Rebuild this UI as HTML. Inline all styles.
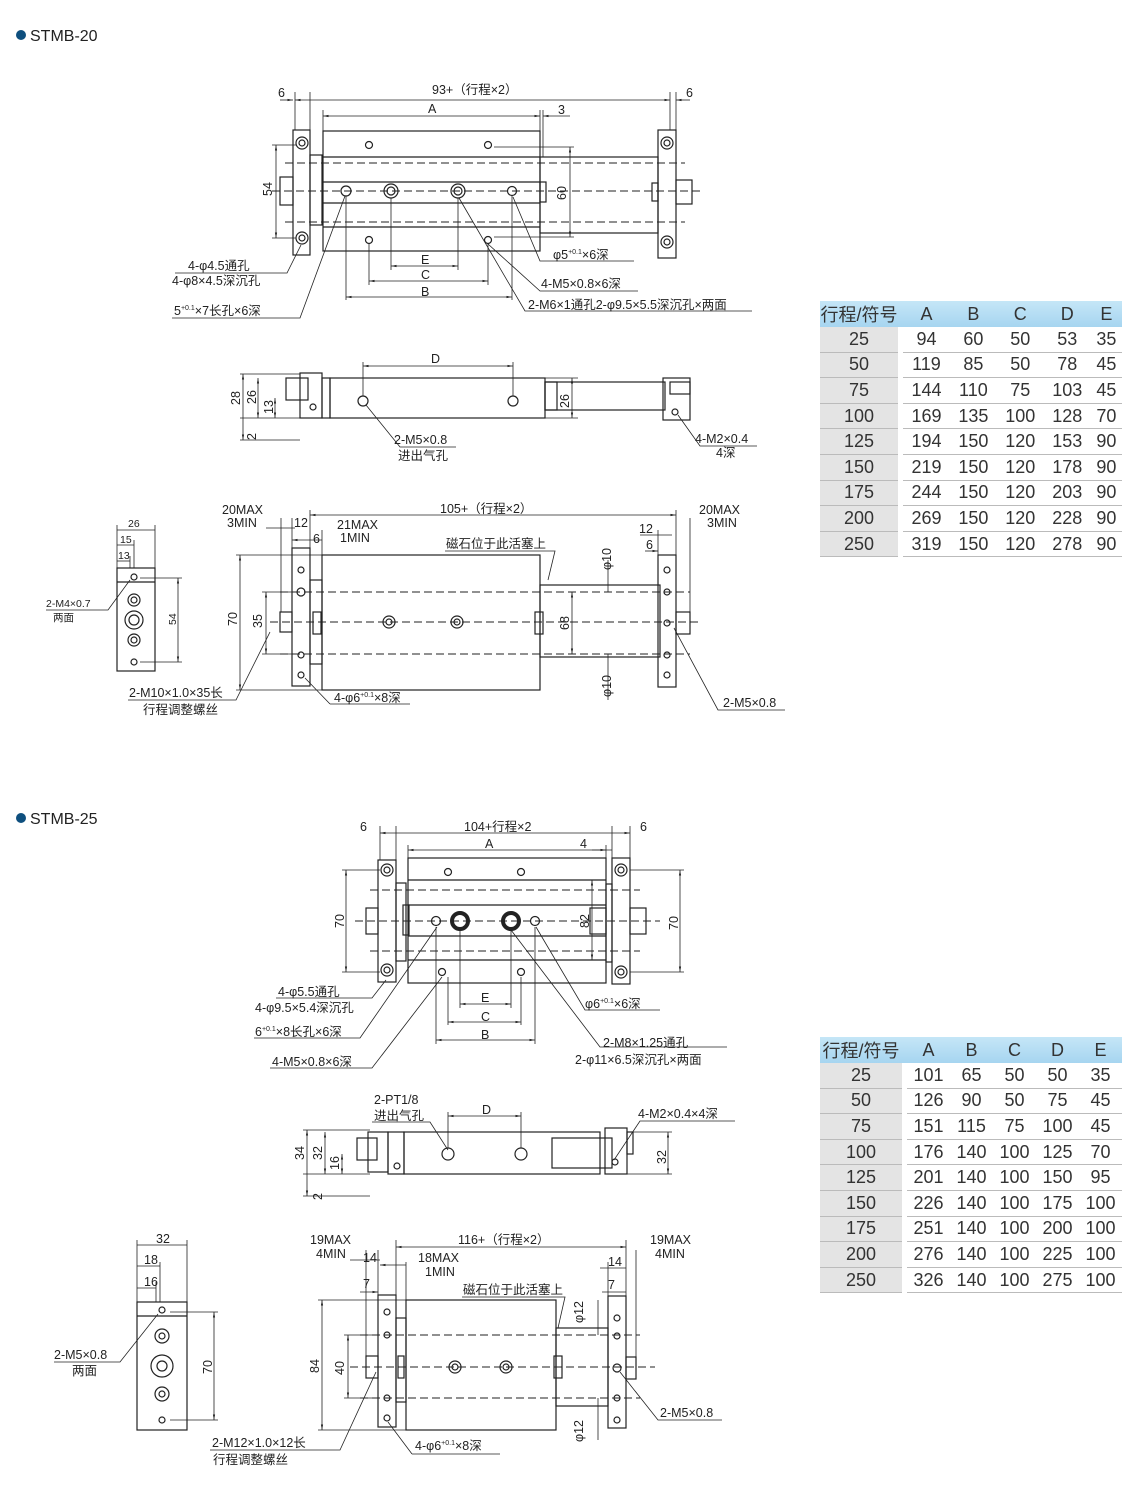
<!DOCTYPE html>
<html><head><meta charset="utf-8"><style>
body{margin:0;background:#fff;width:1140px;height:1504px;overflow:hidden;font-family:"Liberation Sans","Noto Sans CJK SC",sans-serif}
svg text{font-family:"Liberation Sans","Noto Sans CJK SC",sans-serif;fill:#222}
svg text:not(.h){font-size:12.5px}
.t{position:absolute;border-collapse:separate;border-spacing:0;font-size:18px;color:#333}
.t td{height:24.6px;padding:0;text-align:center;border-bottom:1px solid #bbb}
.t tr:first-child td{background:linear-gradient(#c5e6f7,#a6d5f0);border-bottom:none}
.t td.g{background:#e4e4e4}
.t td.sp{width:5px;background:#fff;border-bottom:none}
</style></head><body>
<svg width="1140" height="1504" style="position:absolute;left:0;top:0" stroke="#222" fill="none" stroke-width="1.2">
<defs><marker id="a" viewBox="0 0 10 10" refX="10" refY="5" markerWidth="7" markerHeight="7" orient="auto-start-reverse"><path d="M0,3L10,5L0,7z" fill="#222" stroke="none"/></marker></defs>
<g stroke="none" fill="#0e4f7e"><circle cx="21" cy="35" r="5"/><circle cx="21" cy="818" r="5"/></g>
<g stroke="none" font-size="16"><text class="h" x="30" y="41" font-size="16">STMB-20</text><text class="h" x="30" y="824" font-size="16">STMB-25</text></g>

<!-- ===== STMB-20 TOP ===== -->
<g>
<rect x="293" y="130" width="17" height="125"/><rect x="310" y="155" width="12" height="70"/>
<rect x="323" y="131" width="217" height="120"/><line x1="323" y1="157" x2="540" y2="157"/><line x1="323" y1="182" x2="540" y2="182"/><line x1="323" y1="203" x2="540" y2="203"/><line x1="323" y1="227" x2="540" y2="227"/>
<rect x="540" y="157" width="118" height="76"/><rect x="540" y="182" width="6" height="20"/>
<rect x="658" y="130" width="18" height="128"/><rect x="280" y="177" width="13" height="28"/><rect x="676" y="180" width="16" height="24"/><rect x="652" y="183" width="6" height="18"/>
<g stroke-dasharray="8,4" stroke-width="1"><line x1="285" y1="163" x2="685" y2="163"/><line x1="285" y1="222" x2="685" y2="222"/><line x1="272" y1="191" x2="700" y2="191"/></g>
<g><circle cx="302" cy="143" r="6"/><circle cx="302" cy="143" r="3"/><circle cx="302" cy="238" r="6"/><circle cx="302" cy="238" r="3"/><circle cx="667" cy="143" r="6"/><circle cx="667" cy="143" r="3"/><circle cx="667" cy="242" r="6"/><circle cx="667" cy="242" r="3"/>
<circle cx="369" cy="145" r="3.5"/><circle cx="488" cy="145" r="3.5"/><circle cx="369" cy="240" r="3.5"/><circle cx="488" cy="240" r="3.5"/>
<circle cx="346" cy="191" r="5"/><circle cx="391" cy="191" r="7"/><circle cx="391" cy="191" r="4"/><circle cx="458" cy="191" r="7"/><circle cx="458" cy="191" r="4"/><circle cx="512" cy="191" r="4.5"/></g>
<g stroke-width="0.8"><line x1="295" y1="100" x2="670" y2="100" marker-start="url(#a)" marker-end="url(#a)"/><line x1="280" y1="100" x2="293" y2="100" marker-end="url(#a)"/><line x1="690" y1="100" x2="676" y2="100" marker-end="url(#a)"/>
<line x1="295" y1="92" x2="295" y2="130"/><line x1="310" y1="92" x2="310" y2="130"/><line x1="670" y1="92" x2="670" y2="130"/><line x1="676" y1="92" x2="676" y2="130"/>
<line x1="323" y1="116" x2="540" y2="116" marker-start="url(#a)" marker-end="url(#a)"/><line x1="323" y1="110" x2="323" y2="131"/><line x1="540" y1="110" x2="540" y2="131"/><line x1="543" y1="110" x2="543" y2="157"/><line x1="570" y1="116" x2="543" y2="116" marker-end="url(#a)"/>
<line x1="276" y1="145" x2="276" y2="238" marker-start="url(#a)" marker-end="url(#a)"/><line x1="272" y1="145" x2="296" y2="145"/><line x1="272" y1="238" x2="296" y2="238"/>
<line x1="570" y1="147" x2="570" y2="237" marker-start="url(#a)" marker-end="url(#a)"/><line x1="494" y1="147" x2="574" y2="147"/><line x1="494" y1="237" x2="574" y2="237"/>
<line x1="391" y1="198" x2="391" y2="270"/><line x1="458" y1="198" x2="458" y2="270"/><line x1="369" y1="244" x2="369" y2="285"/><line x1="488" y1="244" x2="488" y2="285"/><line x1="346" y1="196" x2="346" y2="300"/><line x1="512" y1="196" x2="512" y2="300"/>
<line x1="391" y1="266" x2="458" y2="266" marker-start="url(#a)" marker-end="url(#a)"/><line x1="369" y1="281" x2="488" y2="281" marker-start="url(#a)" marker-end="url(#a)"/><line x1="346" y1="297" x2="512" y2="297" marker-start="url(#a)" marker-end="url(#a)"/>
<polyline points="175,273 287,273 301,245"/><polyline points="172,318 300,318 345,196"/><polyline points="634,261 540,261 513,197"/><polyline points="638,291 540,291 488,244"/><polyline points="752,311 525,311 459,198"/></g>
<g stroke="none"><text x="278" y="97">6</text><text x="686" y="97">6</text><text x="432" y="94">93+（行程×2）</text><text x="428" y="113">A</text><text x="558" y="114">3</text><text x="421" y="264">E</text><text x="421" y="279">C</text><text x="421" y="296">B</text>
<text x="188" y="270">4-φ4.5通孔</text><text x="172" y="285">4-φ8×4.5深沉孔</text><text x="174" y="315">5<tspan font-size="7" dy="-5">+0.1</tspan><tspan dy="5">×7长孔×6深</tspan></text><text x="553" y="259">φ5<tspan font-size="7" dy="-5">+0.1</tspan><tspan dy="5">×6深</tspan></text><text x="541" y="288">4-M5×0.8×6深</text><text x="528" y="309">2-M6×1通孔2-φ9.5×5.5深沉孔×两面</text>
<text transform="translate(272,196) rotate(-90)">54</text><text transform="translate(566,200) rotate(-90)">60</text></g>
</g>

<!-- ===== STMB-20 SIDE ===== -->
<g>
<rect x="286" y="378" width="22" height="22"/><rect x="300" y="373" width="22" height="45"/><rect x="322" y="378" width="8" height="40"/><rect x="330" y="378" width="215" height="40"/><rect x="545" y="382" width="120" height="28"/><rect x="545" y="382" width="12" height="28"/><rect x="663" y="378" width="27" height="42"/><rect x="670" y="382" width="20" height="12"/>
<circle cx="363" cy="401" r="5"/><circle cx="513" cy="401" r="5"/><circle cx="313" cy="407" r="3"/><circle cx="675" cy="412" r="3"/>
<g stroke-width="0.8"><line x1="363" y1="366" x2="513" y2="366" marker-start="url(#a)" marker-end="url(#a)"/><line x1="363" y1="362" x2="363" y2="396"/><line x1="513" y1="362" x2="513" y2="396"/>
<line x1="243" y1="374" x2="243" y2="440" marker-start="url(#a)" marker-end="url(#a)"/><line x1="258" y1="378" x2="258" y2="418" marker-start="url(#a)" marker-end="url(#a)"/><line x1="275" y1="398" x2="275" y2="418" marker-start="url(#a)" marker-end="url(#a)"/><line x1="240" y1="374" x2="300" y2="374"/><line x1="240" y1="418" x2="300" y2="418"/><line x1="240" y1="440" x2="300" y2="440"/>
<line x1="572" y1="378" x2="572" y2="418" marker-start="url(#a)" marker-end="url(#a)"/><line x1="545" y1="378" x2="578" y2="378"/><line x1="545" y1="418" x2="578" y2="418"/>
<polyline points="456,447 400,447 366,405"/><polyline points="757,446 700,446 678,415"/></g>
<g stroke="none"><text x="431" y="363">D</text><text x="394" y="444">2-M5×0.8</text><text x="398" y="460">进出气孔</text><text x="695" y="443">4-M2×0.4</text><text x="716" y="457">4深</text>
<text transform="translate(240,405) rotate(-90)">28</text><text transform="translate(256,404) rotate(-90)">26</text><text transform="translate(273,414) rotate(-90)">13</text><text transform="translate(256,440) rotate(-90)">2</text><text transform="translate(569,408) rotate(-90)">26</text></g>
</g>

<!-- ===== STMB-20 FRONT ===== -->
<g>
<rect x="292" y="548" width="18" height="138"/><rect x="310" y="580" width="12" height="84"/><rect x="322" y="555" width="218" height="135"/><rect x="540" y="585" width="120" height="72"/><rect x="535" y="612" width="8" height="22"/><rect x="313" y="612" width="8" height="22"/><rect x="658" y="555" width="18" height="132"/><rect x="676" y="612" width="14" height="22"/><rect x="280" y="612" width="12" height="20"/>
<g stroke-dasharray="8,4" stroke-width="1"><line x1="280" y1="592" x2="690" y2="592"/><line x1="280" y1="654" x2="690" y2="654"/><line x1="270" y1="622" x2="700" y2="622"/></g>
<circle cx="389" cy="622" r="6"/><circle cx="389" cy="622" r="3"/><circle cx="457" cy="622" r="6"/><circle cx="457" cy="622" r="3"/>
<g><circle cx="301" cy="570" r="3"/><circle cx="301" cy="592" r="4"/><circle cx="301" cy="655" r="3"/><circle cx="301" cy="675" r="3"/><circle cx="667" cy="570" r="3"/><circle cx="667" cy="592" r="3"/><circle cx="667" cy="655" r="3"/><circle cx="667" cy="675" r="3"/><circle cx="667" cy="623" r="3"/></g>
<g stroke-width="0.8"><line x1="240" y1="555" x2="240" y2="690" marker-start="url(#a)" marker-end="url(#a)"/><line x1="236" y1="555" x2="322" y2="555"/><line x1="236" y1="690" x2="322" y2="690"/>
<line x1="266" y1="592" x2="266" y2="654" marker-start="url(#a)" marker-end="url(#a)"/><line x1="262" y1="592" x2="292" y2="592"/><line x1="262" y1="654" x2="292" y2="654"/>
<line x1="572" y1="592" x2="572" y2="654" marker-start="url(#a)" marker-end="url(#a)"/>
<line x1="608" y1="560" x2="608" y2="592" /><line x1="608" y1="654" x2="608" y2="700"/>
<line x1="310" y1="515" x2="676" y2="515" marker-start="url(#a)" marker-end="url(#a)"/><line x1="266" y1="528" x2="295" y2="528"/><line x1="322" y1="540" x2="292" y2="540" marker-end="url(#a)"/><line x1="640" y1="535" x2="672" y2="535"/><line x1="645" y1="551" x2="658" y2="551" marker-end="url(#a)"/>
<line x1="281" y1="518" x2="281" y2="612"/><line x1="292" y1="518" x2="292" y2="548"/><line x1="310" y1="510" x2="310" y2="580"/><line x1="322" y1="530" x2="322" y2="555"/><line x1="676" y1="510" x2="676" y2="555"/><line x1="690" y1="518" x2="690" y2="612"/><line x1="658" y1="530" x2="658" y2="555"/>
<polyline points="445,551 555,551 548,580"/><polyline points="128,700 236,700 270,632"/><polyline points="330,704 410,704"/><line x1="330" y1="704" x2="305" y2="678"/><polyline points="785,710 718,710 674,628"/></g>
<g stroke="none"><text x="440" y="513">105+（行程×2）</text><text x="222" y="514">20MAX</text><text x="227" y="527">3MIN</text><text x="294" y="527">12</text><text x="337" y="529">21MAX</text><text x="340" y="542">1MIN</text><text x="313" y="543">6</text><text x="446" y="548">磁石位于此活塞上</text><text x="699" y="514">20MAX</text><text x="707" y="527">3MIN</text><text x="639" y="533">12</text><text x="646" y="549">6</text>
<text x="129" y="697">2-M10×1.0×35长</text><text x="143" y="714">行程调整螺丝</text><text x="334" y="702">4-φ6<tspan font-size="7" dy="-5">+0.1</tspan><tspan dy="5">×8深</tspan></text><text x="723" y="707">2-M5×0.8</text>
<text transform="translate(237,626) rotate(-90)">70</text><text transform="translate(262,628) rotate(-90)">35</text><text transform="translate(569,630) rotate(-90)">68</text><text transform="translate(611,570) rotate(-90)">φ10</text><text transform="translate(611,697) rotate(-90)">φ10</text></g>
</g>
<!-- small side 20 -->
<g>
<rect x="117" y="568" width="38" height="103"/><line x1="117" y1="582" x2="155" y2="582"/>
<circle cx="134" cy="577" r="3"/><circle cx="134" cy="600" r="6"/><circle cx="134" cy="600" r="3"/><circle cx="134" cy="620" r="9"/><circle cx="134" cy="620" r="5"/><circle cx="134" cy="640" r="6"/><circle cx="134" cy="640" r="3"/><circle cx="134" cy="662" r="3"/>
<g stroke-width="0.8"><line x1="117" y1="530" x2="155" y2="530"/><line x1="117" y1="545" x2="134" y2="545"/><line x1="117" y1="561" x2="130" y2="561"/><line x1="117" y1="525" x2="117" y2="568"/><line x1="155" y1="525" x2="155" y2="568"/><line x1="134" y1="540" x2="134" y2="568"/><line x1="130" y1="556" x2="130" y2="568"/>
<line x1="178" y1="578" x2="178" y2="662" marker-start="url(#a)" marker-end="url(#a)"/><line x1="140" y1="578" x2="182" y2="578"/><line x1="140" y1="662" x2="182" y2="662"/><polyline points="46,610 108,610 130,580"/></g>
<g stroke="none"><text x="128" y="527" style="font-size:10.5px">26</text><text x="120" y="543" style="font-size:10.5px">15</text><text x="118" y="559" style="font-size:10.5px">13</text><text x="46" y="607" style="font-size:10.5px">2-M4×0.7</text><text x="53" y="621" style="font-size:10.5px">两面</text><text transform="translate(176,625) rotate(-90)" style="font-size:10.5px">54</text></g>
</g>

<!-- ===== STMB-25 TOP ===== -->
<g>
<rect x="378" y="860" width="18" height="122"/><rect x="396" y="883" width="10" height="78"/><rect x="408" y="858" width="198" height="125"/><line x1="408" y1="880" x2="606" y2="880"/><line x1="408" y1="905" x2="606" y2="905"/><line x1="408" y1="936" x2="606" y2="936"/><line x1="408" y1="960" x2="606" y2="960"/>
<rect x="403" y="905" width="6" height="30"/><rect x="606" y="884" width="6" height="78"/><rect x="612" y="858" width="18" height="126"/><rect x="630" y="908" width="16" height="26"/><rect x="366" y="908" width="12" height="26"/><rect x="590" y="908" width="16" height="26"/>
<g stroke-dasharray="8,4" stroke-width="1"><line x1="370" y1="890" x2="640" y2="890"/><line x1="370" y1="951" x2="640" y2="951"/><line x1="355" y1="921" x2="660" y2="921"/></g>
<circle cx="387" cy="870" r="6"/><circle cx="387" cy="870" r="3"/><circle cx="387" cy="970" r="6"/><circle cx="387" cy="970" r="3"/><circle cx="621" cy="870" r="6"/><circle cx="621" cy="870" r="3"/><circle cx="621" cy="972" r="6"/><circle cx="621" cy="972" r="3"/>
<circle cx="448" cy="872" r="3.5"/><circle cx="521" cy="872" r="3.5"/><circle cx="442" cy="972" r="3.5"/><circle cx="521" cy="972" r="3.5"/><circle cx="436" cy="921" r="4.5"/><circle cx="535" cy="921" r="4.5"/>
<circle cx="460" cy="921" r="8" stroke-width="4"/><circle cx="511" cy="921" r="8" stroke-width="4"/>
<g stroke-width="0.8"><line x1="380" y1="833" x2="630" y2="833" marker-start="url(#a)" marker-end="url(#a)"/><line x1="380" y1="826" x2="380" y2="860"/><line x1="396" y1="826" x2="396" y2="860"/><line x1="612" y1="826" x2="612" y2="860"/><line x1="630" y1="826" x2="630" y2="860"/>
<line x1="408" y1="850" x2="606" y2="850" marker-start="url(#a)" marker-end="url(#a)"/><line x1="408" y1="845" x2="408" y2="858"/><line x1="606" y1="845" x2="606" y2="884"/><line x1="592" y1="850" x2="612" y2="850"/>
<line x1="346" y1="870" x2="346" y2="972" marker-start="url(#a)" marker-end="url(#a)"/><line x1="342" y1="870" x2="380" y2="870"/><line x1="342" y1="972" x2="380" y2="972"/>
<line x1="680" y1="870" x2="680" y2="972" marker-start="url(#a)" marker-end="url(#a)"/><line x1="630" y1="870" x2="684" y2="870"/><line x1="630" y1="972" x2="684" y2="972"/>
<line x1="592" y1="880" x2="592" y2="960" marker-start="url(#a)" marker-end="url(#a)"/>
<line x1="460" y1="930" x2="460" y2="1008"/><line x1="511" y1="930" x2="511" y2="1008"/><line x1="448" y1="977" x2="448" y2="1025"/><line x1="521" y1="977" x2="521" y2="1025"/><line x1="436" y1="927" x2="436" y2="1044"/><line x1="535" y1="927" x2="535" y2="1044"/>
<line x1="460" y1="1004" x2="511" y2="1004" marker-start="url(#a)" marker-end="url(#a)"/><line x1="448" y1="1022" x2="521" y2="1022" marker-start="url(#a)" marker-end="url(#a)"/><line x1="436" y1="1040" x2="535" y2="1040" marker-start="url(#a)" marker-end="url(#a)"/>
<polyline points="276,998 372,998 386,980"/><polyline points="254,1038 360,1038 437,927"/><polyline points="270,1068 372,1068 442,977"/><polyline points="660,1010 585,1010 536,927"/><polyline points="727,1047 600,1047 511,930"/></g>
<g stroke="none"><text x="360" y="831">6</text><text x="640" y="831">6</text><text x="464" y="831">104+行程×2</text><text x="485" y="848">A</text><text x="580" y="848">4</text><text x="481" y="1002">E</text><text x="481" y="1021">C</text><text x="481" y="1039">B</text>
<text x="278" y="996">4-φ5.5通孔</text><text x="255" y="1012">4-φ9.5×5.4深沉孔</text><text x="255" y="1036">6<tspan font-size="7" dy="-5">+0.1</tspan><tspan dy="5">×8长孔×6深</tspan></text><text x="272" y="1066">4-M5×0.8×6深</text><text x="585" y="1008">φ6<tspan font-size="7" dy="-5">+0.1</tspan><tspan dy="5">×6深</tspan></text><text x="603" y="1047">2-M8×1.25通孔</text><text x="575" y="1064">2-φ11×6.5深沉孔×两面</text>
<text transform="translate(344,928) rotate(-90)">70</text><text transform="translate(678,930) rotate(-90)">70</text><text transform="translate(589,928) rotate(-90)">82</text></g>
</g>

<!-- ===== STMB-25 SIDE ===== -->
<g>
<rect x="357" y="1138" width="20" height="22"/><rect x="368" y="1132" width="20" height="40"/><rect x="388" y="1132" width="16" height="42"/><rect x="404" y="1132" width="196" height="42"/><rect x="552" y="1138" width="60" height="30"/><rect x="605" y="1128" width="22" height="46"/><rect x="627" y="1132" width="6" height="22"/>
<circle cx="448" cy="1154" r="6"/><circle cx="521" cy="1154" r="6"/><circle cx="397" cy="1166" r="3"/><circle cx="615" cy="1162" r="3"/>
<g stroke-width="0.8"><line x1="448" y1="1116" x2="521" y2="1116" marker-start="url(#a)" marker-end="url(#a)"/><line x1="448" y1="1112" x2="448" y2="1148"/><line x1="521" y1="1112" x2="521" y2="1148"/>
<line x1="307" y1="1130" x2="307" y2="1196" marker-start="url(#a)" marker-end="url(#a)"/><line x1="325" y1="1132" x2="325" y2="1174" marker-start="url(#a)" marker-end="url(#a)"/><line x1="342" y1="1154" x2="342" y2="1174" marker-start="url(#a)" marker-end="url(#a)"/><line x1="303" y1="1130" x2="370" y2="1130"/><line x1="303" y1="1174" x2="370" y2="1174"/><line x1="303" y1="1196" x2="370" y2="1196"/>
<line x1="668" y1="1132" x2="668" y2="1174" marker-start="url(#a)" marker-end="url(#a)"/><line x1="627" y1="1132" x2="672" y2="1132"/><line x1="627" y1="1174" x2="672" y2="1174"/>
<polyline points="372,1122 430,1122 448,1150"/><polyline points="735,1121 640,1121 614,1160"/></g>
<g stroke="none"><text x="482" y="1114">D</text><text x="374" y="1104">2-PT1/8</text><text x="374" y="1120">进出气孔</text><text x="638" y="1118">4-M2×0.4×4深</text>
<text transform="translate(304,1160) rotate(-90)">34</text><text transform="translate(322,1160) rotate(-90)">32</text><text transform="translate(339,1170) rotate(-90)">16</text><text transform="translate(322,1200) rotate(-90)">2</text><text transform="translate(666,1164) rotate(-90)">32</text></g>
</g>

<!-- ===== STMB-25 FRONT ===== -->
<g>
<rect x="378" y="1295" width="18" height="132"/><rect x="396" y="1318" width="10" height="84"/><rect x="406" y="1300" width="150" height="130"/><rect x="556" y="1328" width="52" height="78"/><rect x="554" y="1356" width="8" height="22"/><rect x="608" y="1296" width="18" height="132"/><rect x="626" y="1357" width="10" height="22"/><rect x="366" y="1356" width="12" height="22"/><rect x="398" y="1356" width="6" height="22"/>
<g stroke-dasharray="8,4" stroke-width="1"><line x1="360" y1="1335" x2="640" y2="1335"/><line x1="360" y1="1398" x2="640" y2="1398"/><line x1="350" y1="1367" x2="655" y2="1367"/></g>
<circle cx="455" cy="1367" r="6"/><circle cx="455" cy="1367" r="3"/><circle cx="506" cy="1367" r="6"/><circle cx="506" cy="1367" r="3"/>
<circle cx="387" cy="1312" r="3"/><circle cx="387" cy="1335" r="3"/><circle cx="387" cy="1398" r="3"/><circle cx="387" cy="1418" r="3"/><circle cx="617" cy="1318" r="3"/><circle cx="617" cy="1336" r="3"/><circle cx="617" cy="1368" r="4"/><circle cx="617" cy="1398" r="3"/><circle cx="617" cy="1420" r="3"/>
<g stroke-width="0.8"><line x1="322" y1="1300" x2="322" y2="1430" marker-start="url(#a)" marker-end="url(#a)"/><line x1="318" y1="1300" x2="406" y2="1300"/><line x1="318" y1="1430" x2="406" y2="1430"/>
<line x1="348" y1="1335" x2="348" y2="1398" marker-start="url(#a)" marker-end="url(#a)"/><line x1="344" y1="1335" x2="378" y2="1335"/><line x1="344" y1="1398" x2="378" y2="1398"/>
<line x1="598" y1="1300" x2="598" y2="1335"/><line x1="598" y1="1398" x2="598" y2="1440"/>
<line x1="396" y1="1247" x2="626" y2="1247" marker-start="url(#a)" marker-end="url(#a)"/><line x1="350" y1="1260" x2="380" y2="1260"/><line x1="406" y1="1265" x2="380" y2="1265" marker-end="url(#a)"/><line x1="360" y1="1292" x2="378" y2="1292" marker-end="url(#a)"/><line x1="600" y1="1268" x2="626" y2="1268"/><line x1="602" y1="1292" x2="626" y2="1292"/>
<line x1="366" y1="1250" x2="366" y2="1356"/><line x1="378" y1="1250" x2="378" y2="1295"/><line x1="396" y1="1240" x2="396" y2="1318"/><line x1="406" y1="1262" x2="406" y2="1300"/><line x1="626" y1="1240" x2="626" y2="1296"/><line x1="636" y1="1250" x2="636" y2="1357"/><line x1="608" y1="1262" x2="608" y2="1296"/>
<polyline points="462,1297 565,1297 558,1328"/><polyline points="210,1450 340,1450 376,1372"/><polyline points="412,1454 500,1454"/><line x1="412" y1="1454" x2="388" y2="1422"/><polyline points="722,1420 658,1420 620,1372"/></g>
<g stroke="none"><text x="458" y="1244">116+（行程×2）</text><text x="310" y="1244">19MAX</text><text x="316" y="1258">4MIN</text><text x="363" y="1262">14</text><text x="418" y="1262">18MAX</text><text x="425" y="1276">1MIN</text><text x="363" y="1288">7</text><text x="463" y="1294">磁石位于此活塞上</text><text x="650" y="1244">19MAX</text><text x="655" y="1258">4MIN</text><text x="608" y="1266">14</text><text x="608" y="1289">7</text>
<text x="212" y="1447">2-M12×1.0×12长</text><text x="213" y="1464">行程调整螺丝</text><text x="415" y="1450">4-φ6<tspan font-size="7" dy="-5">+0.1</tspan><tspan dy="5">×8深</tspan></text><text x="660" y="1417">2-M5×0.8</text>
<text transform="translate(319,1373) rotate(-90)">84</text><text transform="translate(344,1375) rotate(-90)">40</text><text transform="translate(583,1323) rotate(-90)">φ12</text><text transform="translate(583,1442) rotate(-90)">φ12</text></g>
</g>
<!-- small side 25 -->
<g>
<rect x="137" y="1302" width="50" height="128"/><line x1="137" y1="1316" x2="187" y2="1316"/>
<circle cx="162" cy="1310" r="3"/><circle cx="162" cy="1336" r="7"/><circle cx="162" cy="1336" r="3"/><circle cx="162" cy="1366" r="11"/><circle cx="162" cy="1366" r="5"/><circle cx="162" cy="1394" r="7"/><circle cx="162" cy="1394" r="3"/><circle cx="162" cy="1420" r="3"/>
<g stroke-width="0.8"><line x1="137" y1="1245" x2="187" y2="1245"/><line x1="137" y1="1266" x2="160" y2="1266"/><line x1="137" y1="1288" x2="156" y2="1288"/><line x1="137" y1="1240" x2="137" y2="1302"/><line x1="187" y1="1240" x2="187" y2="1302"/><line x1="160" y1="1262" x2="160" y2="1302"/><line x1="156" y1="1282" x2="156" y2="1302"/>
<line x1="214" y1="1312" x2="214" y2="1420" marker-start="url(#a)" marker-end="url(#a)"/><line x1="170" y1="1312" x2="218" y2="1312"/><line x1="170" y1="1420" x2="218" y2="1420"/><polyline points="54,1362 120,1362 158,1314"/></g>
<g stroke="none"><text x="156" y="1243">32</text><text x="144" y="1264">18</text><text x="144" y="1286">16</text><text x="54" y="1359">2-M5×0.8</text><text x="72" y="1375">两面</text><text transform="translate(212,1374) rotate(-90)">70</text></g>
</g>
</svg>

<table class="t" style="left:820px;top:301px;width:302px">
<tr><td class="g" style="width:78px;background:linear-gradient(#c5e6f7,#a6d5f0)">行程/符号</td><td class="sp"></td><td>A</td><td>B</td><td>C</td><td>D</td><td>E</td></tr>
<tr><td class="g">25</td><td class="sp"></td><td>94</td><td>60</td><td>50</td><td>53</td><td>35</td></tr>
<tr><td class="g">50</td><td class="sp"></td><td>119</td><td>85</td><td>50</td><td>78</td><td>45</td></tr>
<tr><td class="g">75</td><td class="sp"></td><td>144</td><td>110</td><td>75</td><td>103</td><td>45</td></tr>
<tr><td class="g">100</td><td class="sp"></td><td>169</td><td>135</td><td>100</td><td>128</td><td>70</td></tr>
<tr><td class="g">125</td><td class="sp"></td><td>194</td><td>150</td><td>120</td><td>153</td><td>90</td></tr>
<tr><td class="g">150</td><td class="sp"></td><td>219</td><td>150</td><td>120</td><td>178</td><td>90</td></tr>
<tr><td class="g">175</td><td class="sp"></td><td>244</td><td>150</td><td>120</td><td>203</td><td>90</td></tr>
<tr><td class="g">200</td><td class="sp"></td><td>269</td><td>150</td><td>120</td><td>228</td><td>90</td></tr>
<tr><td class="g">250</td><td class="sp"></td><td>319</td><td>150</td><td>120</td><td>278</td><td>90</td></tr>
</table>
<table class="t" style="left:820px;top:1037px;width:302px">
<tr><td class="g" style="width:82px;background:linear-gradient(#c5e6f7,#a6d5f0)">行程/符号</td><td class="sp"></td><td>A</td><td>B</td><td>C</td><td>D</td><td>E</td></tr>
<tr><td class="g">25</td><td class="sp"></td><td>101</td><td>65</td><td>50</td><td>50</td><td>35</td></tr>
<tr><td class="g">50</td><td class="sp"></td><td>126</td><td>90</td><td>50</td><td>75</td><td>45</td></tr>
<tr><td class="g">75</td><td class="sp"></td><td>151</td><td>115</td><td>75</td><td>100</td><td>45</td></tr>
<tr><td class="g">100</td><td class="sp"></td><td>176</td><td>140</td><td>100</td><td>125</td><td>70</td></tr>
<tr><td class="g">125</td><td class="sp"></td><td>201</td><td>140</td><td>100</td><td>150</td><td>95</td></tr>
<tr><td class="g">150</td><td class="sp"></td><td>226</td><td>140</td><td>100</td><td>175</td><td>100</td></tr>
<tr><td class="g">175</td><td class="sp"></td><td>251</td><td>140</td><td>100</td><td>200</td><td>100</td></tr>
<tr><td class="g">200</td><td class="sp"></td><td>276</td><td>140</td><td>100</td><td>225</td><td>100</td></tr>
<tr><td class="g">250</td><td class="sp"></td><td>326</td><td>140</td><td>100</td><td>275</td><td>100</td></tr>
</table>
</body></html>
